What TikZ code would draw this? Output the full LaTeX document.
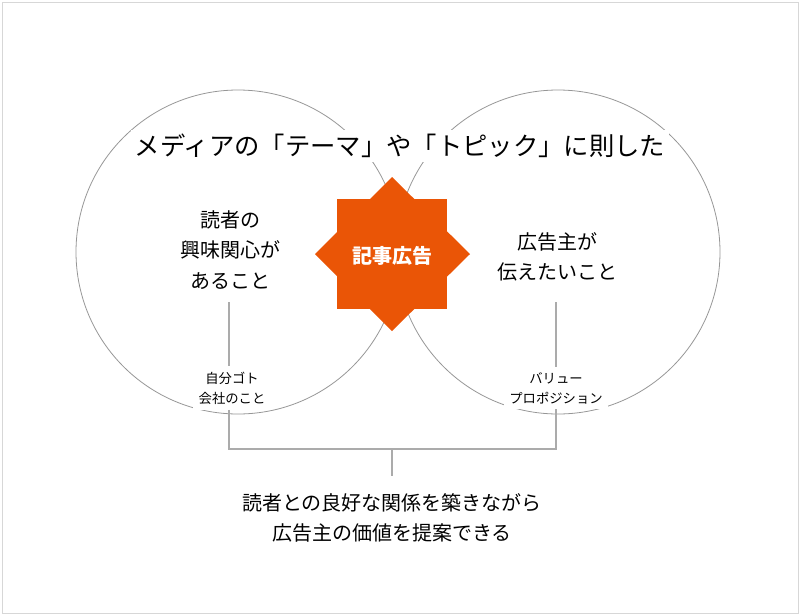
\documentclass[tikz,border=0pt]{standalone}
\usepackage{fontspec}
\setmainfont{Noto Sans CJK JP}
\usepackage{tikz}
\usetikzlibrary{positioning,calc}
\definecolor{starorange}{RGB}{234,85,6}
\definecolor{linegray}{RGB}{150,150,150}
\tikzset{
  ring/.style={draw=linegray,line width=0.6pt},
  bracketline/.style={draw=linegray!80,line width=0.8pt},
  bigtext/.style={fill=white,inner sep=3pt,align=center,font=\fontsize{19}{24}\selectfont},
  midtext/.style={align=center,inner sep=0.75pt,font=\fontsize{15}{23}\selectfont},
  smalltext/.style={fill=white,align=center,inner sep=4pt,font=\fontsize{10}{15}\selectfont},
}
\begin{document}
\begin{tikzpicture}[x=0.75pt,y=0.75pt,yscale=-1,xscale=1]
\useasboundingbox (0,0) rectangle (800,615);
%Frame
\draw [draw={rgb, 255:red, 215; green, 215; blue, 215}] (2,2) rectangle (798,613);

%Shape: Circle
\draw [ring] (238,252) circle [radius=162];
%Shape: Circle
\draw [ring] (558,252) circle [radius=162];

% Text Node
\node [bigtext] (topic) at (400,146) {メディアの「テーマ」や「トピック」に則した};

%Shape: Star
\fill [starorange] (337,199) rectangle (447,309);
\fill [starorange] (392,177) -- (470,254) -- (392,331) -- (315,254) -- cycle;
\node [text=white,font=\fontsize{15}{18}\selectfont\bfseries] (ad) at (392,256) {記事広告};

% Text Node
\node [midtext] (reader) at (230,250) {読者の\\興味関心が\\あること};
% Text Node
\node [midtext] (client) at (557,257) {広告主が\\伝えたいこと};
% Text Node
\node [smalltext] (self) at (232,388) {自分ゴト\\会社のこと};
% Text Node
\node [smalltext] (value) at (556,388) {バリュー\\プロポジション};

%Bracket
\coordinate (la) at (229,302);
\coordinate (ra) at (556,302);
\coordinate (lb) at (229,449);
\coordinate (rb) at (556,449);
\coordinate (mb) at (392,449);
\coordinate (tip) at (392,476);
\draw [bracketline] (la) -- (self.north -| la);
\draw [bracketline] (ra) -- (value.north -| ra);
\draw [bracketline] (self.south -| lb) -- (lb) -- (rb) -- (value.south -| rb);
\draw [bracketline] (mb) -- (tip);

% Text Node
\node [midtext,below=12pt of tip] (goal) {読者との良好な関係を築きながら\\広告主の価値を提案できる};

\end{tikzpicture}
\end{document}
